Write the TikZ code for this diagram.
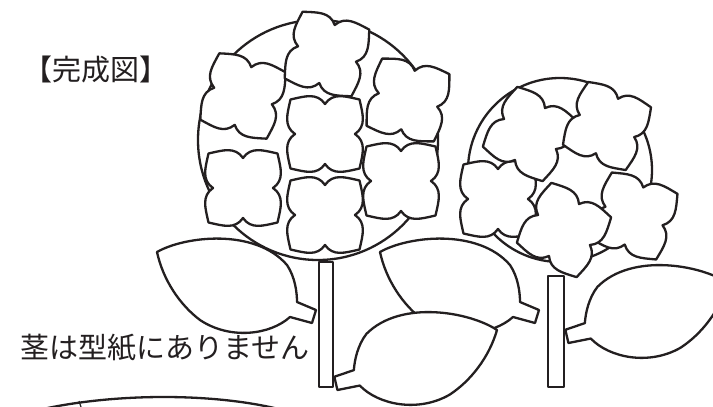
\documentclass[tikz,border=0pt]{standalone}
\usepackage{fontspec}
\newfontfamily\jp{Noto Sans CJK JP}
\definecolor{ink}{HTML}{231F20}
\tikzset{
 ln/.style={line width=2.3pt, draw=ink, line join=round},
 fl/.style={ln, fill=white},
 flower/.pic={\path[fl] (0,30) .. controls (8,41.5) and (19.5,37.9) .. (34.5,34.5) .. controls (37.9,19.5) and (41.5,8) .. (30,0) .. controls (41.5,-8) and (37.9,-19.5) .. (34.5,-34.5) .. controls (19.5,-37.9) and (8,-41.5) .. (0,-30) .. controls (-8,-41.5) and (-19.5,-37.9) .. (-34.5,-34.5) .. controls (-37.9,-19.5) and (-41.5,-8) .. (-30,0) .. controls (-41.5,8) and (-37.9,19.5) .. (-34.5,34.5) .. controls (-19.5,37.9) and (-8,41.5) .. cycle;},
 leaf/.pic={\path[fl] (0,0) .. controls (28,-16) and (98,-24) .. (130,13) .. controls (138,25) and (140,40) .. (140,50) -- (159,58) -- (155,71) -- (133,65) .. controls (113,83) and (73,88) .. (43,68) .. controls (23,53) and (6,28) .. cycle;},
 lbl/.style={inner sep=0, text=ink, font=\jp\fontsize{29}{29}\selectfont}
}
\begin{document}
\begin{tikzpicture}[x=1pt,y=-1pt]
\useasboundingbox (0,0) rectangle (713,407);
\fill[white] (0,0) rectangle (713,407);
\clip (0,0) rectangle (713,407);
% left hydrangea
\draw[fl] (318,140) circle[radius=120];
\pic[rotate=-16] (f2) at (243,96) {flower};
\pic[rotate=-15] (f1) at (327,54) {flower};
\pic[rotate=-13] (f3) at (408,100) {flower};
\pic (f4) at (325,134) {flower};
\pic (f5) at (243,188) {flower};
\pic (f6) at (325,215) {flower};
\pic (f7) at (401,181) {flower};
% right hydrangea
\draw[fl] (560,170) circle[radius=92];
\pic (g3) at (498,199) {flower};
\pic[rotate=-30] (g1) at (530,134) {flower};
\pic[rotate=-22,scale=0.98] (g2) at (607,126) {flower};
\pic[rotate=-18] (g5) at (634,216) {flower};
\pic[rotate=-30] (g4) at (564,230) {flower};
% leaves
\pic (l1) at (157,252) {leaf};
\pic (l3) at (380,252) {leaf};
\pic[xscale=-1,rotate=4] (l2) at (497,330) {leaf};
\pic[xscale=-1,rotate=4] (l4) at (728,283) {leaf};
% stems
\draw[fl] (319,262) rectangle (333,387);
\draw[fl] (548,276) rectangle (564,387);
% texts
\node[lbl, anchor=base] (t1) at (96,80) {【完成図】};
\node[lbl, anchor=base west] (t2) at (20.5,358) {茎は型紙にありません};
% bottom arc
\draw[ln] (30,412) .. controls (110,392) and (220,392) .. (290,412);
\draw[ln, line width=1.2pt] (79,401) -- (81,407);
\end{tikzpicture}
\end{document}
